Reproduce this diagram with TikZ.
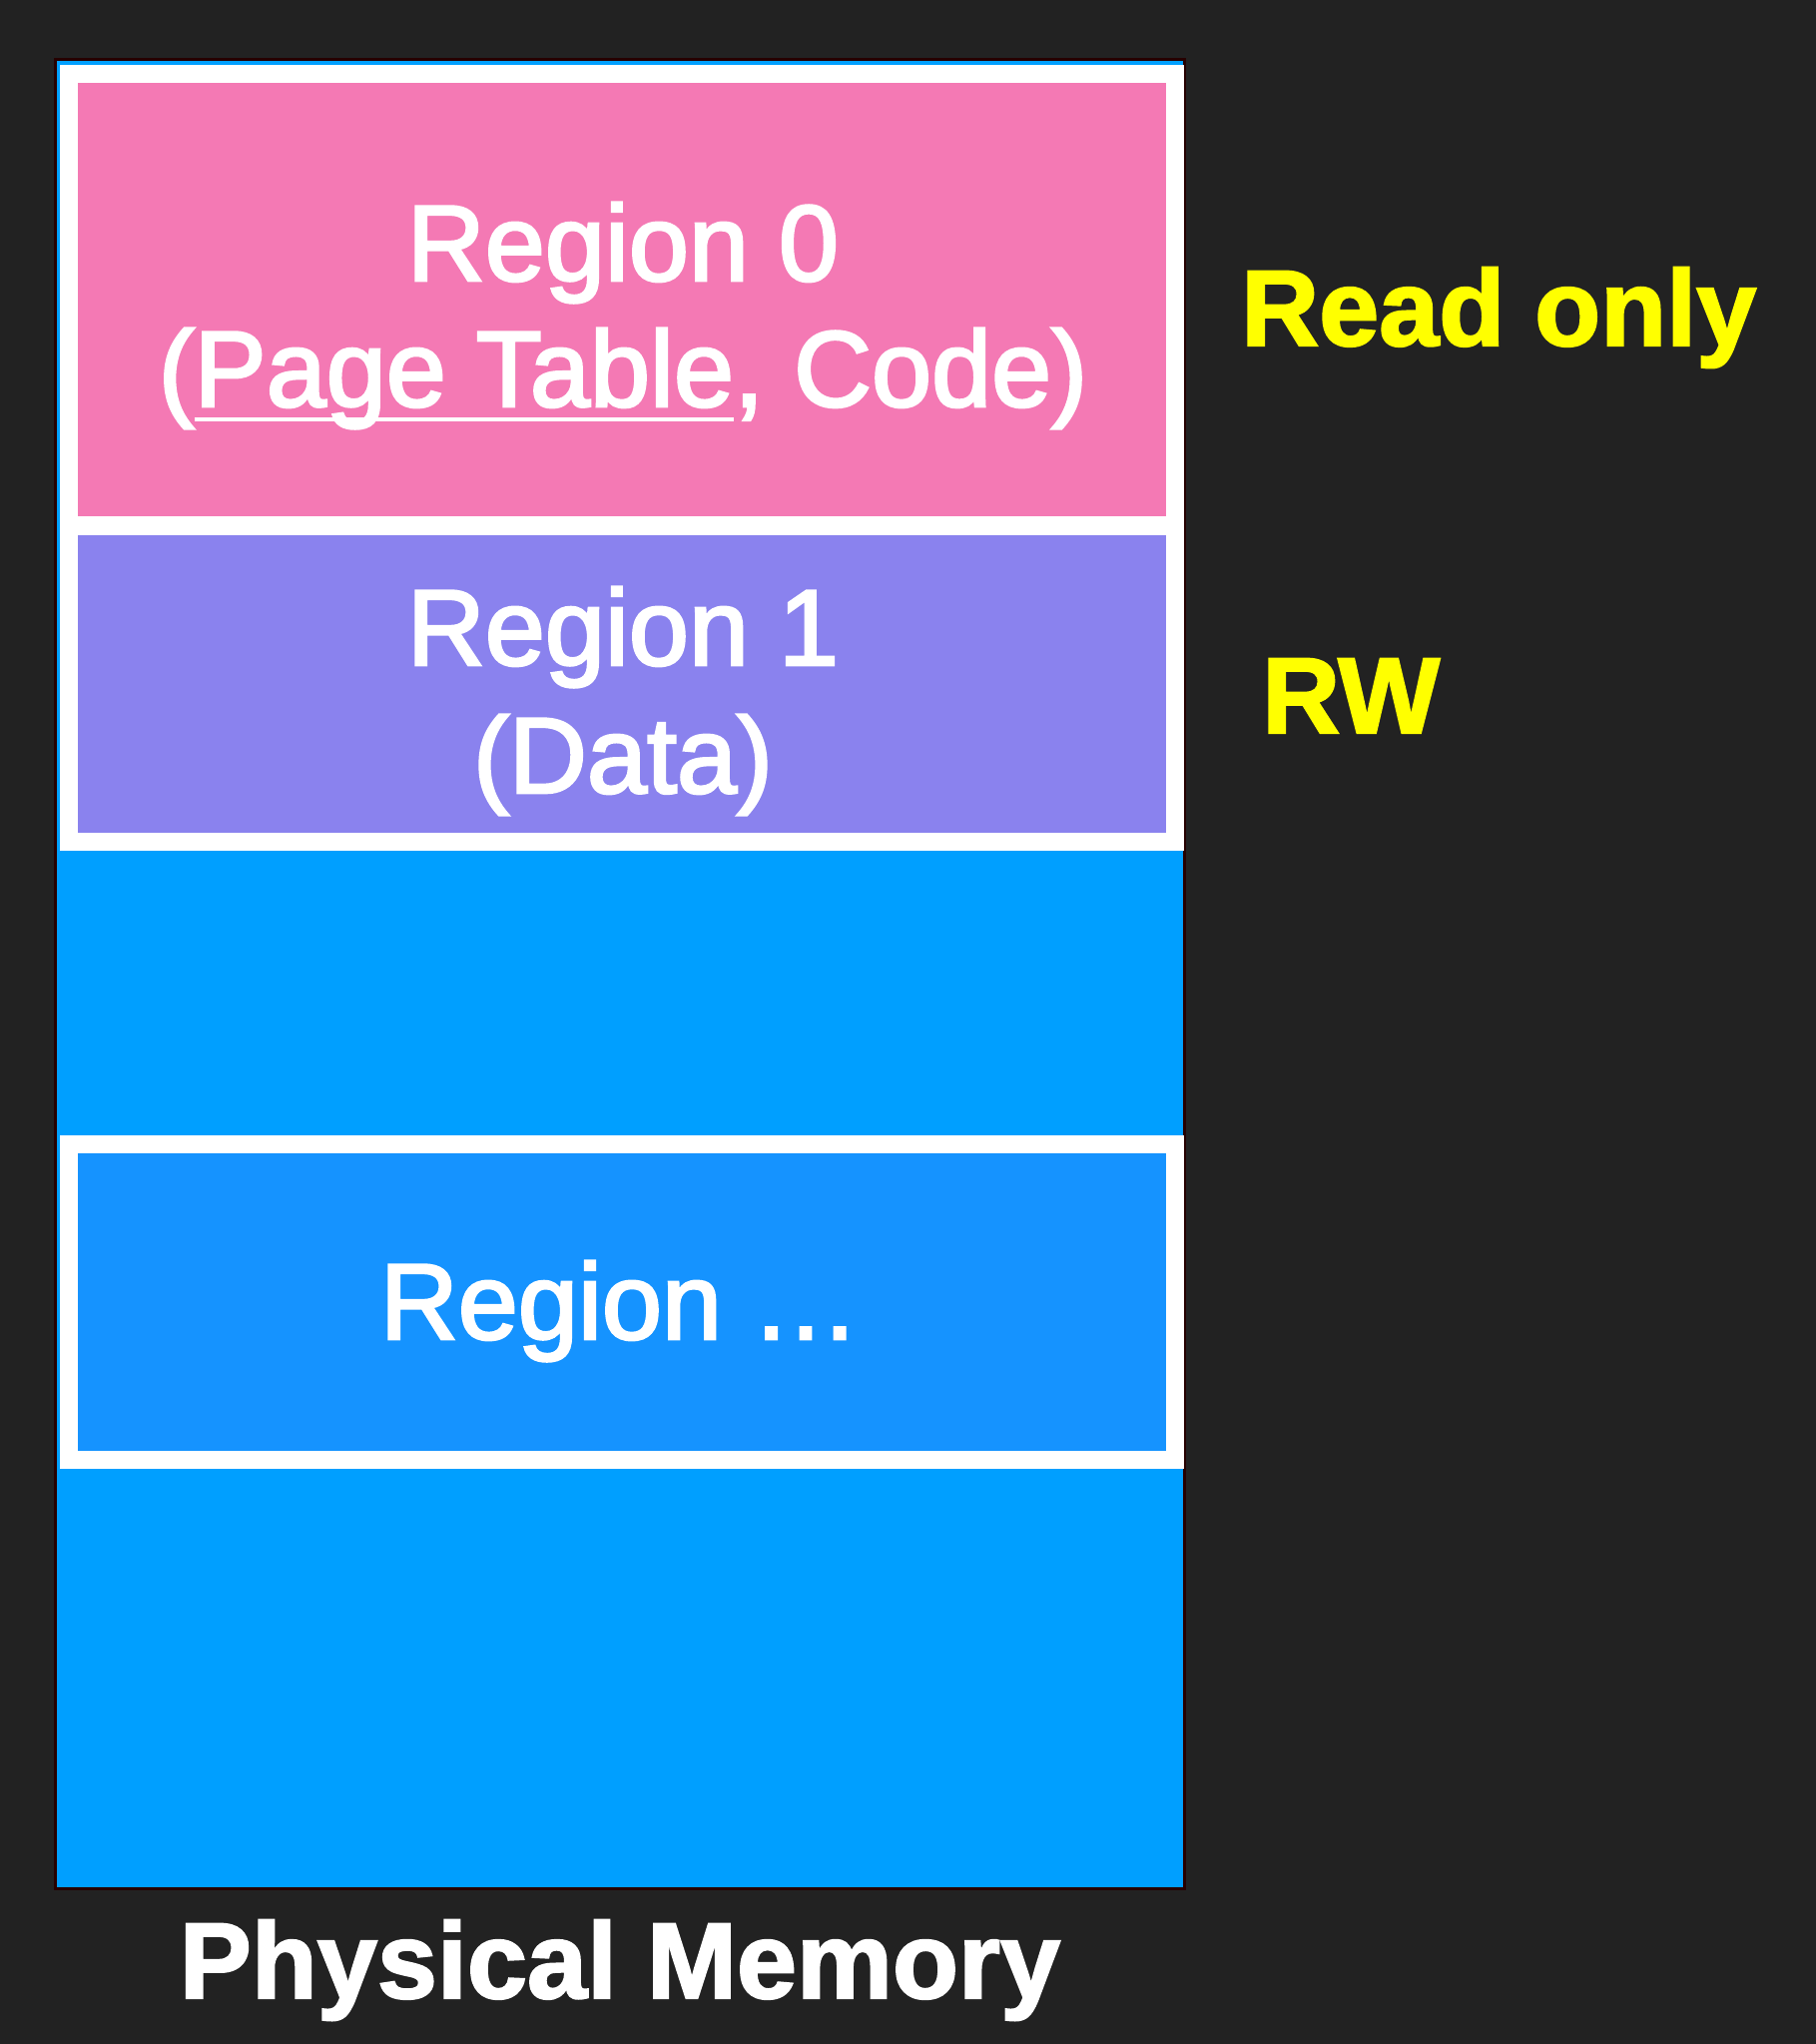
\documentclass[tikz,border=0pt]{standalone}
\usepackage{fontspec}
\setmainfont{Liberation Sans}
\newfontfamily\regfont[FakeBold=2.5]{Liberation Sans}
\newfontfamily\tagfont[FakeBold=2]{Liberation Sans Bold}
\definecolor{bgdark}{HTML}{222222}
\definecolor{memblue}{HTML}{009FFF}
\definecolor{rzero}{HTML}{F479B4}
\definecolor{rone}{HTML}{8A82EE}
\definecolor{rdots}{HTML}{1593FF}
\definecolor{tagyellow}{HTML}{FFFF00}
\newcommand{\souligne}[1]{\sbox0{#1}\rlap{\rule[-15pt]{\wd0}{4pt}}\usebox0}

\begin{document}
\begin{tikzpicture}[x=1pt,y=-1pt,
  region/.style={draw=white,line width=18pt,minimum width=1108pt,inner sep=0pt},
  lbl/.style={text=white,font=\regfont\fontsize{108}{127}\selectfont,inner sep=0pt,anchor=base},
  tag/.style={font=\tagfont\fontsize{108}{127}\selectfont,inner sep=0pt,anchor=base west}]

  \fill[bgdark] (0,0) rectangle (1819,2047);

  \node[draw=black!85!red,fill=memblue,line width=3pt,minimum width=1131pt,
        minimum height=1831pt,inner sep=0pt] (mem) at (620.5,975.5) {};

  \node[region,fill=rzero,minimum height=452pt] (r0) at (623,300) {};
  \node[region,fill=rone,minimum height=316pt]  (r1) at (623,684.5) {};
  \node[region,fill=rdots,minimum height=316pt] (rd) at (623,1303.5) {};

  \node[lbl] (r0a) at (624,281)  {Region 0};
  \node[lbl] (r0b) at (624,407)  {(\souligne{Page Table}, Code)};
  \node[lbl] (r1a) at (624,666)  {Region 1};
  \node[lbl] (r1b) at (624,794)  {(Data)};
  \node[lbl] (rda) at (621,1341) {Region …};

  \node[tag,text=tagyellow] (ro) at (1243,346) {Read only};
  \node[tag,text=tagyellow] (rw) at (1264,734) {RW};
  \node[tag,text=white,anchor=base] (pm) at (621,2001) {Physical Memory};
\end{tikzpicture}
\end{document}
